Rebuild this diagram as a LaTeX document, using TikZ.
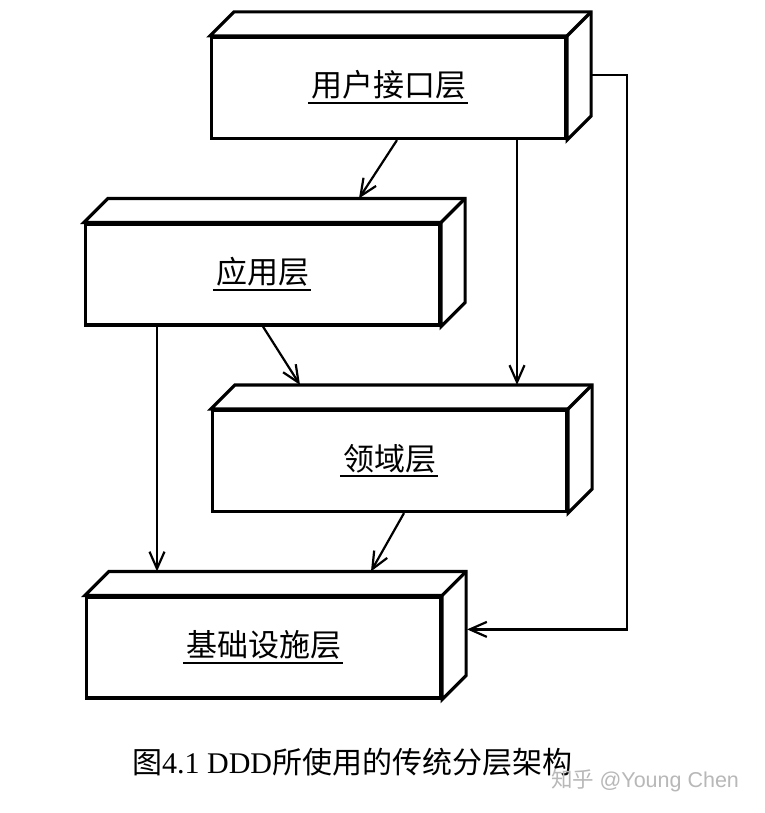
\documentclass[tikz,border=0pt]{standalone}
\usepackage{fontspec}
\setmainfont{Liberation Serif}
\newfontfamily\cjk{Noto Sans CJK SC}
\newfontfamily\wmfont{Liberation Sans}
\usetikzlibrary{arrows.meta,calc}
\tikzset{
  front/.style={draw, fill=white, line width=3.2pt, line join=miter, minimum width=354pt, minimum height=101pt, inner sep=0pt},
  boxline/.style={line width=3.2pt, line join=miter},
  lab/.style={anchor=base, inner sep=0pt, font=\cjk\fontsize{31}{36}\selectfont},
  uline/.style={line width=2pt},
  conn/.style={line width=2.2pt, -{Straight Barb[length=17pt,width=15pt,line width=2.2pt]}},
}
\newcommand\layerfaces[1]{%
  \draw[boxline,fill=white] (#1.north west) -- ++(24,-24) -- ([shift={(24,-24)}]#1.north east)
     -- ([shift={(24,-24)}]#1.south east) -- (#1.south east) -- (#1.north east) -- cycle;
  \draw[boxline] (#1.north east) -- ([shift={(24,-24)}]#1.north east);
}
\newcommand\layerlabel[3]{%
  \node[lab] (#2) at ([yshift=-9pt]#1.center) {#3};
  \draw[uline] ([xshift=-3pt,yshift=-6pt]#2.base west) -- ([xshift=2pt,yshift=-6pt]#2.base east);
}
\begin{document}
\begin{tikzpicture}[x=1pt,y=-1pt]
\fill[white] (0,0) rectangle (764,813);
\useasboundingbox (0,0) rectangle (764,813);

% layer boxes (front faces)
\node[front] (ui)  at (388.5,88)   {};
\node[front] (app) at (262.5,274.5) {};
\node[front] (dom) at (389.5,461)  {};
\node[front] (inf) at (263.5,647.5) {};
\layerfaces{ui}
\layerfaces{app}
\layerfaces{dom}
\layerfaces{inf}

% labels
\layerlabel{ui}{uil}{用户接口层}
\layerlabel{app}{appl}{应用层}
\layerlabel{dom}{doml}{领域层}
\layerlabel{inf}{infl}{基础设施层}

% connectors
\draw[conn] ([xshift=8.5pt]ui.south) -- ([shift={(96.5,-24)}]app.north);
\draw[conn] ([xshift=128.5pt]ui.south) -- ([shift={(127.5,-24)}]dom.north);
\coordinate (uiR) at ([shift={(24,39.5)}]ui.north east);
\coordinate (railX) at (627,0);
\coordinate (infR) at ([shift={(25,34)}]inf.north east);
\draw[conn, line join=miter] (uiR) -- (uiR -| railX) -- (infR -| railX) -- (infR);
\draw[conn] ([xshift=0.5pt]app.south) -- ([shift={(-89.5,-24)}]dom.north);
\draw[conn] ([xshift=-105.5pt]app.south) -- ([shift={(-106.5,-24)}]inf.north);
\draw[conn] ([xshift=14.5pt]dom.south) -- ([shift={(107.5,-24)}]inf.north);

% caption
\node[anchor=base west, inner sep=0pt, font=\fontsize{30}{36}\selectfont] (cap) at (132,773)
  {{\cjk 图}4.1 DDD{\cjk 所使用的传统分层架构}};
% watermark
\node[anchor=base west, inner sep=0pt, text=black!28, font=\fontsize{21.5}{26}\selectfont] (wm) at (551,787)
  {{\cjk 知乎} {\wmfont @Young Chen}};
\end{tikzpicture}
\end{document}
